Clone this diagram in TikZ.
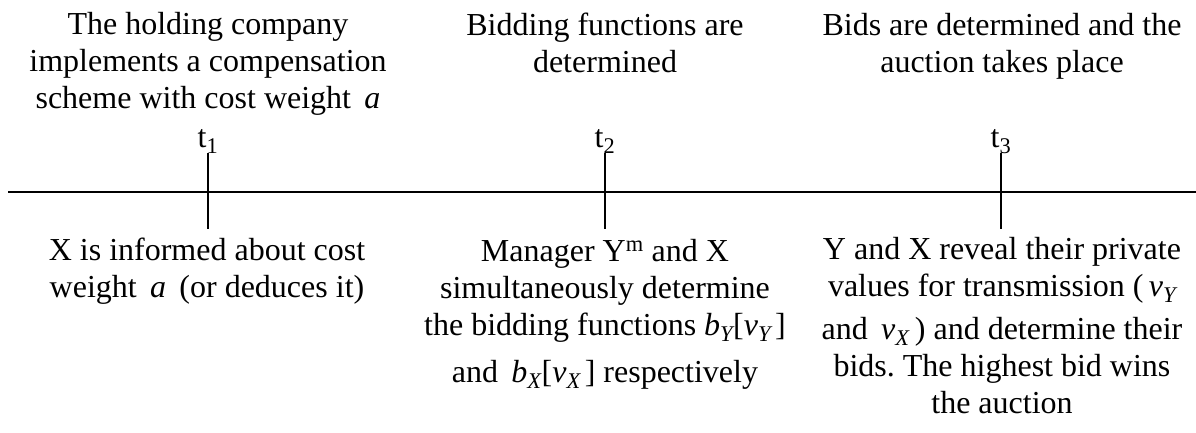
\documentclass[tikz,border=0pt]{standalone}
\usepackage{fontspec}
\setmainfont{Liberation Serif}
\usepackage{amsmath}
\frenchspacing
\newcommand{\mi}[1]{\textit{#1}}
\newcommand{\lb}{\textup{[}}
\newcommand{\rb}{\textup{]}}
\begin{document}
\begin{tikzpicture}[x=1pt,y=-1pt,
  every node/.style={inner sep=0pt, outer sep=0pt},
  txt/.style={font=\fontsize{32}{37}\selectfont, align=center, anchor=base},
  axisline/.style={line width=2pt},
  tick/.style={line width=2pt}]
\useasboundingbox (0,0) rectangle (1196,432);
% time line
\coordinate (L) at (8,192);
\coordinate (R) at (1196,192);
\draw[axisline] (L) -- (R);
% tick labels
\node[txt] (t1) at (208,147) {t\textsubscript{1}};
\node[txt] (t2) at (605,147) {t\textsubscript{2}};
\node[txt] (t3) at (1001,147) {t\textsubscript{3}};
\coordinate (a1) at (208,153); \coordinate (b1) at (208,229);
\coordinate (a2) at (605,153); \coordinate (b2) at (605,229);
\coordinate (a3) at (1001,153); \coordinate (b3) at (1001,229);
\draw[tick] (a1) -- (b1);
\draw[tick] (a2) -- (b2);
\draw[tick] (a3) -- (b3);
% top texts (base = last line)
\node[txt] (up1) at (208,108) {The holding company\\implements a compensation\\scheme with cost weight \,$\mi{a}$};
\node[txt] (up2) at (605,72) {Bidding functions are\\determined};
\node[txt] (up3) at (1002,72) {Bids are determined and the\\auction takes place};
% bottom texts
\node[txt] (lo1) at (207,297) {X is informed about cost\\weight \,$\mi{a}$\, (or deduces it)};
\node[txt] (lo2) at (605,382) {Manager Y\textsuperscript{m} and X\\simultaneously determine\\the bidding functions $\mi{b}_{\mi{Y}}\lb\mi{v}_{\mi{Y}}\,\rb$\\[10pt]and \,$\mi{b}_{\mi{X}}\lb\mi{v}_{\mi{X}}\,\rb$ respectively};
\node[txt] (lo3) at (1002,413) {Y and X reveal their private\\values for transmission (\,$\mi{v}_{\mi{Y}}$\\[6pt]and \,$\mi{v}_{\mi{X}}$\,) and determine their\\bids. The highest bid wins\\the auction};
\end{tikzpicture}
\end{document}
